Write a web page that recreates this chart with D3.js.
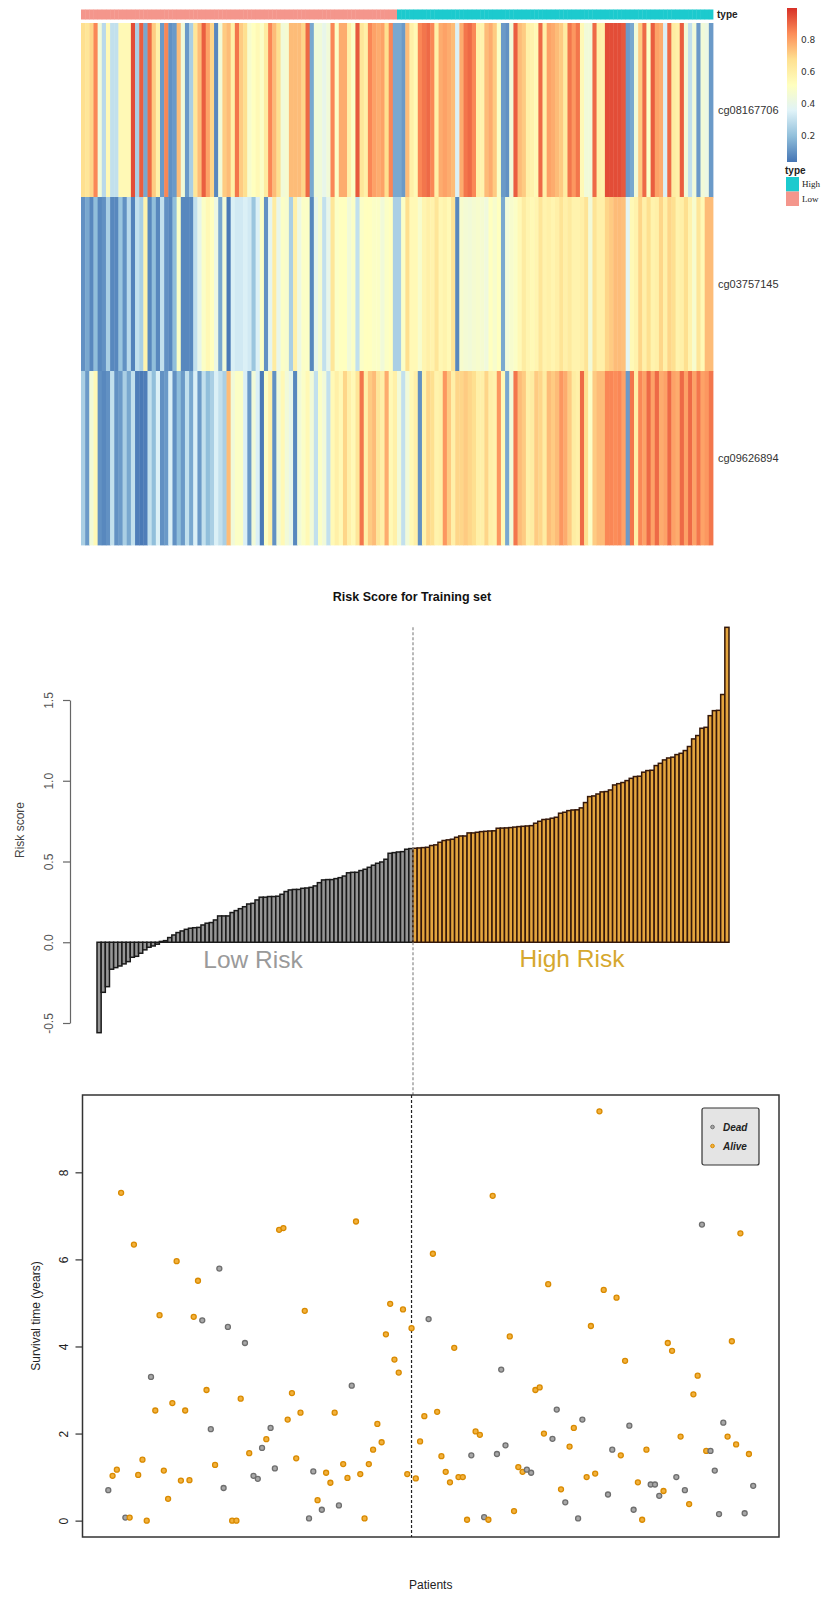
<!DOCTYPE html>
<html lang="en">
<head>
<meta charset="UTF-8">
<title>Risk Score for Training set</title>
<script src="https://d3js.org/d3.v7.min.js"></script>
<style>
  body { margin: 0; background: #fff; }
  svg { display: block; font-family: "Liberation Sans", Arial, sans-serif; }
</style>
</head>
<body>
<div id="chart"></div>
<script>
// ---- data ----
const probes = ["cg08167706", "cg03757145", "cg09626894"];

// methylation beta values, patients sorted by risk score (76 low, then 76 high)
const cg08167706 = [
  0.68,0.65,0.7,0.85,0.45,0.28,0.55,0.3,0.3,0.55, 0.55,0.55,0.95,0.25,0.92,0.15,0.9,0.72,0.6,0.12,
  0.85,0.1,0.12,0.75,0.45,0.12,0.25,0.65,0.75,0.92, 0.8,0.7,0.08,0.45,0.72,0.75,0.6,0.88,0.72,0.68,
  0.48,0.52,0.55,0.5,0.62,0.85,0.75,0.68,0.45,0.47, 0.75,0.75,0.75,0.7,0.9,0.15,0.45,0.45,0.4,0.45,
  0.85,0.5,0.78,0.78,0.6,0.5,0.93,0.65,0.6,0.85, 0.8,0.78,0.8,0.68,0.85,0.15,
  0.15,0.12,0.75,0.6,0.55,0.85,0.88,0.9,0.85,0.6, 0.78,0.8,0.78,0.75,0.35,0.78,0.88,0.9,0.85,0.6,
  0.58,0.75,0.78,0.72,0.5,0.12,0.1,0.45,0.92,0.75, 0.72,0.6,0.58,0.55,0.9,0.6,0.8,0.78,0.75,0.72,
  0.62,0.88,0.82,0.88,0.55,0.45,0.45,0.9,0.6,0.58, 0.95,0.95,0.95,0.95,0.93,0.12,0.15,0.45,0.72,0.9,
  0.5,0.92,0.8,0.78,0.35,0.9,0.62,0.6,0.92,0.45, 0.3,0.45,0.12,0.45,0.42,0.12
];
const cg03757145 = [
  0.10,0.15,0.08,0.20,0.08,0.10,0.25,0.08,0.08,0.22, 0.10,0.28,0.07,0.30,0.25,0.58,0.08,0.20,0.08,0.30,
  0.10,0.08,0.20,0.50,0.08,0.08,0.08,0.30,0.40,0.50, 0.55,0.52,0.42,0.15,0.45,0.05,0.35,0.33,0.33,0.35,
  0.33,0.22,0.35,0.50,0.10,0.38,0.62,0.40,0.50,0.48, 0.25,0.60,0.42,0.50,0.50,0.08,0.40,0.47,0.30,0.40,
  0.65,0.50,0.52,0.52,0.45,0.50,0.30,0.50,0.52,0.52, 0.50,0.50,0.45,0.50,0.52,0.25,
  0.25,0.5,0.68,0.55,0.55,0.48,0.57,0.6,0.58,0.65, 0.56,0.58,0.55,0.66,0.08,0.48,0.46,0.45,0.47,0.48,
  0.47,0.44,0.52,0.48,0.52,0.15,0.45,0.48,0.5,0.55, 0.62,0.57,0.55,0.57,0.65,0.58,0.6,0.57,0.6,0.66,
  0.6,0.63,0.58,0.58,0.6,0.66,0.45,0.66,0.6,0.6, 0.7,0.72,0.75,0.75,0.74,0.38,0.55,0.58,0.7,0.6,
  0.68,0.58,0.6,0.7,0.6,0.7,0.68,0.58,0.6,0.68, 0.58,0.48,0.65,0.55,0.75,0.75
];
const cg09626894 = [
  0.25,0.12,0.45,0.55,0.1,0.08,0.1,0.3,0.1,0.12, 0.25,0.15,0.3,0.06,0.05,0.06,0.3,0.2,0.35,0.1,
  0.12,0.35,0.1,0.2,0.12,0.3,0.15,0.35,0.12,0.3, 0.2,0.25,0.35,0.3,0.25,0.75,0.45,0.5,0.5,0.35,
  0.12,0.45,0.35,0.05,0.5,0.6,0.1,0.45,0.55,0.45, 0.4,0.08,0.45,0.5,0.55,0.45,0.3,0.5,0.45,0.3,
  0.55,0.6,0.55,0.7,0.6,0.55,0.65,0.88,0.6,0.72, 0.75,0.65,0.6,0.78,0.55,0.6,
  0.45,0.3,0.45,0.55,0.6,0.1,0.58,0.7,0.68,0.58, 0.6,0.82,0.72,0.6,0.7,0.7,0.72,0.7,0.68,0.6,
  0.6,0.7,0.6,0.58,0.82,0.55,0.15,0.45,0.88,0.75, 0.72,0.6,0.62,0.72,0.7,0.62,0.75,0.72,0.75,0.82,
  0.78,0.72,0.62,0.6,0.9,0.68,0.5,0.72,0.75,0.75, 0.85,0.85,0.84,0.85,0.8,0.12,0.88,0.6,0.85,0.8,
  0.9,0.8,0.9,0.78,0.8,0.9,0.8,0.78,0.9,0.8, 0.9,0.8,0.88,0.8,0.82,0.88
];

// risk scores (sorted)
const riskLow = [
  -0.56,-0.31,-0.275,-0.167,-0.157,-0.147,-0.134,-0.12,-0.093,-0.087,
  -0.068,-0.047,-0.031,-0.023,-0.012,0.005,0.01,0.029,0.045,0.06,
  0.07,0.08,0.087,0.09,0.092,0.107,0.118,0.122,0.138,0.163,
  0.163,0.163,0.184,0.196,0.208,0.22,0.237,0.241,0.262,0.279,
  0.279,0.283,0.283,0.285,0.297,0.314,0.324,0.327,0.327,0.334,
  0.336,0.34,0.349,0.369,0.386,0.388,0.388,0.394,0.4,0.41,
  0.43,0.433,0.433,0.444,0.452,0.464,0.477,0.489,0.497,0.514,
  0.551,0.555,0.559,0.561,0.576,0.58
];
const riskHigh = [
  0.582,0.584,0.586,0.588,0.599,0.603,0.619,0.63,0.634,0.638,
  0.65,0.658,0.658,0.677,0.677,0.681,0.685,0.687,0.689,0.69,
  0.706,0.707,0.708,0.71,0.713,0.716,0.718,0.72,0.722,0.737,
  0.749,0.76,0.762,0.768,0.774,0.799,0.805,0.815,0.819,0.82,
  0.832,0.865,0.902,0.906,0.918,0.931,0.933,0.943,0.974,0.982,
  0.989,1.001,1.015,1.026,1.028,1.053,1.063,1.065,1.094,1.108,
  1.129,1.141,1.146,1.162,1.17,1.187,1.212,1.259,1.28,1.325,
  1.331,1.403,1.434,1.436,1.534,1.95
];

// survival time (years) and status (1 = dead, 0 = alive), same patient order
const survTime = [
  0.70,1.03,1.17,7.53,0.07,0.07,6.34,1.05,1.40,0.00, 3.30,2.53,4.72,1.15,0.50,2.70,5.96,0.92,2.53,0.93,
  4.68,5.51,4.60,3.00,2.10,1.28,5.79,0.75,4.45,0.00, 0.00,2.80,4.08,1.55,1.03,0.96,1.67,1.87,2.13,1.20,
  6.68,6.72,2.32,2.93,1.43,2.48,4.82,0.05,1.13,0.47, 0.25,1.10,0.87,2.48,0.35,1.30,0.98,3.10,6.87,1.07,
  0.05,1.30,1.63,2.22,1.80,4.28,4.98,3.70,3.40,4.85, 1.07,4.42,0.97,1.82,2.40,4.63,6.13,2.50,1.48,1.12,
  0.88,3.97,1.00,1.00,0.02,1.50,2.05,1.97,0.08,0.02, 7.46,1.53,3.47,1.73,4.23,0.22,1.23,1.12,1.17,1.10,
  3.00,3.06,2.00,5.43,1.88,2.55,0.72,0.42,1.70,2.13, 0.05,2.32,1.00,4.47,1.08,9.40,5.30,0.60,1.63,5.12,
  1.50,3.67,2.18,0.25,0.88,0.02,1.63,0.83,0.83,0.57, 0.68,4.08,3.90,1.00,1.93,0.70,0.38,2.90,3.33,6.80,
  1.60,1.60,1.15,0.15,2.25,1.93,4.12,1.75,6.60,0.17, 1.53,0.80
];
const survStatus = [
  1,0,0,0,1,0,0,0,0,0, 1,0,0,0,0,0,0,0,0,0,
  0,0,1,0,1,0,1,1,1,0, 0,0,1,0,1,1,1,0,1,1,
  0,0,0,0,0,0,0,1,1,0, 1,0,0,0,1,0,0,1,0,0,
  0,0,0,0,0,0,0,0,0,0, 0,0,0,0,0,1,0,0,0,0,
  0,0,0,0,0,1,0,0,1,0, 0,1,1,1,0,0,0,0,1,1,
  0,0,0,0,1,1,0,1,0,0, 1,1,0,0,0,0,0,1,1,0,
  0,0,1,1,0,0,0,1,1,1, 0,0,0,1,0,1,0,0,0,1,
  0,1,1,1,1,0,0,0,0,1, 0,1
];
const survCut = 72;

const riskTicks = [-0.5, 0, 0.5, 1.0, 1.5];
const survTicks = [0, 2, 4, 6, 8];
const colorTicks = [0.2, 0.4, 0.6, 0.8];
const typeLevels = ["High", "Low"];

// ---- setup ----
const W = 826, H = 1597;
const svg = d3.select("#chart").append("svg").attr("width", W).attr("height", H);

const riskScore = riskLow.concat(riskHigh);
const riskType = riskScore.map((d, i) => i < riskLow.length ? "Low" : "High");
const n = riskScore.length;
const patients = d3.range(n);

// ================= heatmap =================
const methyl = [cg08167706, cg03757145, cg09626894];
const hx = d3.scaleBand().domain(patients).range([81, 713]);
const hy = d3.scaleBand().domain(probes).range([23, 545]);
const heatColors = ["#4575B4", "#91BFDB", "#E0F3F8", "#FFFFBF", "#FEE090", "#FC8D59", "#D73027"];
const cLo = 0.04, cHi = 1.0;
const heatColor = d3.scaleLinear()
  .domain(d3.range(7).map(i => cLo + i * (cHi - cLo) / 6))
  .range(heatColors).clamp(true);
const typeColor = d3.scaleOrdinal().domain(typeLevels).range(["#1CCACE", "#F4968C"]);

const heat = svg.append("g");
probes.forEach((p, r) => {
  heat.append("g").selectAll("rect")
    .data(methyl[r])
    .join("rect")
    .attr("x", (d, i) => hx(i))
    .attr("y", hy(p))
    .attr("width", hx.bandwidth() + 0.4)
    .attr("height", hy.bandwidth() + 0.4)
    .attr("fill", d => heatColor(d));

  heat.append("text")
    .attr("x", 718).attr("y", hy(p) + hy.bandwidth() / 2)
    .attr("dy", "0.35em")
    .attr("font-size", 11).attr("fill", "#333")
    .text(p);
});

// annotation bar
heat.append("g").selectAll("rect")
  .data(riskType)
  .join("rect")
  .attr("x", (d, i) => hx(i))
  .attr("y", 9.5)
  .attr("width", hx.bandwidth() + 0.4)
  .attr("height", 10)
  .attr("fill", d => typeColor(d));

heat.append("text")
  .attr("x", 717).attr("y", 18)
  .attr("font-size", 10).attr("font-weight", "bold").attr("fill", "#222")
  .text("type");

// colour bar
const cb = d3.scaleLinear().domain([cLo, cHi]).range([162, 8]);
const grad = svg.append("defs").append("linearGradient")
  .attr("id", "cbar").attr("x1", 0).attr("y1", 1).attr("x2", 0).attr("y2", 0);
heatColors.forEach((c, i) => {
  grad.append("stop").attr("offset", i / 6).attr("stop-color", c);
});
svg.append("rect")
  .attr("x", 787).attr("y", cb(cHi))
  .attr("width", 10).attr("height", cb(cLo) - cb(cHi))
  .attr("fill", "url(#cbar)");
svg.append("g").selectAll("text")
  .data(colorTicks)
  .join("text")
  .attr("x", 801).attr("y", d => cb(d))
  .attr("dy", "0.35em")
  .attr("font-size", 9).attr("fill", "#333")
  .attr("font-family", "'DejaVu Sans', sans-serif")
  .text(d => d.toFixed(1));

// type legend
svg.append("text")
  .attr("x", 785).attr("y", 174)
  .attr("font-size", 10).attr("font-weight", "bold").attr("fill", "#222")
  .text("type");
const tl = svg.append("g").selectAll("g")
  .data(typeLevels)
  .join("g")
  .attr("transform", (d, i) => `translate(786,${177 + i * 14.5})`);
tl.append("rect")
  .attr("width", 13).attr("height", 14.5)
  .attr("fill", d => typeColor(d));
tl.append("text")
  .attr("x", 16).attr("y", 10)
  .attr("font-size", 9)
  .attr("font-family", "'Liberation Serif', 'DejaVu Serif', serif")
  .attr("fill", "#222")
  .text(d => d);

// ================= risk score barplot =================
const bx = d3.scaleBand().domain(patients).range([97, 729]).padding(0);
const by = d3.scaleLinear().domain([-0.5, 1.5]).range([1023, 700]);

svg.append("text")
  .attr("x", 412).attr("y", 601)
  .attr("text-anchor", "middle")
  .attr("font-size", 12.5).attr("font-weight", "bold").attr("fill", "#111")
  .text("Risk Score for Training set");

svg.append("g").selectAll("rect")
  .data(riskScore)
  .join("rect")
  .attr("x", (d, i) => bx(i))
  .attr("y", d => by(Math.max(0, d)))
  .attr("width", bx.bandwidth())
  .attr("height", d => Math.abs(by(d) - by(0)))
  .attr("fill", (d, i) => riskType[i] === "Low" ? "#969696" : "#E4A53E")
  .attr("stroke", (d, i) => riskType[i] === "Low" ? "#1a1a1a" : "#35180a")
  .attr("stroke-width", 1.5);

const riskAxis = svg.append("g")
  .attr("transform", "translate(70,0)")
  .call(d3.axisLeft(by).tickValues(riskTicks).tickSize(7).tickSizeOuter(0)
    .tickFormat(d => d.toFixed(1)));
riskAxis.selectAll("path, line").attr("stroke", "#666").attr("stroke-width", 1.2);
riskAxis.selectAll("text")
  .attr("x", 0).attr("dy", 0)
  .attr("text-anchor", "middle")
  .attr("transform", "translate(-17,0) rotate(-90)")
  .attr("font-size", 12)
  .attr("font-family", "'Liberation Sans', Arial, sans-serif")
  .attr("fill", "#555");

svg.append("text")
  .attr("transform", "translate(24,830) rotate(-90)")
  .attr("text-anchor", "middle")
  .attr("font-size", 12).attr("fill", "#444")
  .text("Risk score");

svg.append("text")
  .attr("x", 253).attr("y", 968)
  .attr("text-anchor", "middle")
  .attr("font-size", 24.5).attr("fill", "#9A9A9A")
  .text("Low Risk");
svg.append("text")
  .attr("x", 572).attr("y", 967)
  .attr("text-anchor", "middle")
  .attr("font-size", 24.5).attr("fill", "#D6A82E")
  .text("High Risk");

// ================= survival scatter =================
const xPad = 0.04 * (n - 1);
const sx = d3.scaleLinear().domain([1 - xPad, n + xPad]).range([82.5, 779]);
const tMax = d3.max(survTime);
const sy = d3.scaleLinear().domain([-0.04 * tMax, tMax * 1.04]).range([1537, 1095]);

// grey dashed split line of the barplot, running down to the scatter box
svg.append("line")
  .attr("x1", bx(riskLow.length)).attr("x2", bx(riskLow.length))
  .attr("y1", by(d3.max(riskScore))).attr("y2", sy.range()[1])
  .attr("stroke", "#8a8a8a").attr("stroke-width", 1.2)
  .attr("stroke-dasharray", "3,2");

svg.append("rect")
  .attr("x", sx.range()[0]).attr("y", sy.range()[1])
  .attr("width", sx.range()[1] - sx.range()[0])
  .attr("height", sy.range()[0] - sy.range()[1])
  .attr("fill", "none").attr("stroke", "#333").attr("stroke-width", 1.5);

svg.append("line")
  .attr("x1", sx(survCut)).attr("x2", sx(survCut))
  .attr("y1", sy.range()[1]).attr("y2", sy.range()[0])
  .attr("stroke", "#222").attr("stroke-width", 1.2)
  .attr("stroke-dasharray", "3,2");

const survAxis = svg.append("g")
  .attr("transform", `translate(${sx.range()[0]},0)`)
  .call(d3.axisLeft(sy).tickValues(survTicks).tickSize(7).tickSizeOuter(0));
survAxis.select(".domain").remove();
survAxis.selectAll("line").attr("stroke", "#333").attr("stroke-width", 1.2);
survAxis.selectAll("text")
  .attr("x", 0).attr("dy", 0)
  .attr("text-anchor", "middle")
  .attr("transform", "translate(-15,0) rotate(-90)")
  .attr("font-size", 12)
  .attr("font-family", "'Liberation Sans', Arial, sans-serif")
  .attr("fill", "#222");

svg.append("text")
  .attr("transform", "translate(40,1316) rotate(-90)")
  .attr("text-anchor", "middle")
  .attr("font-size", 12).attr("fill", "#222")
  .text("Survival time (years)");

svg.append("text")
  .attr("x", (sx.range()[0] + sx.range()[1]) / 2).attr("y", 1589)
  .attr("text-anchor", "middle")
  .attr("font-size", 12).attr("fill", "#222")
  .text("Patients");

const statusFill = ["#F2B13C", "#A8A8A8"];
const statusStroke = ["#D98A00", "#6E6E6E"];
svg.append("g").selectAll("circle")
  .data(survTime)
  .join("circle")
  .attr("cx", (d, i) => sx(i + 1))
  .attr("cy", d => sy(d))
  .attr("r", 2.5)
  .attr("fill", (d, i) => statusFill[survStatus[i]])
  .attr("stroke", (d, i) => statusStroke[survStatus[i]])
  .attr("stroke-width", 1.3);

// legend
const lg = svg.append("g").attr("transform", "translate(702,1108)");
lg.append("rect")
  .attr("width", 57).attr("height", 57).attr("rx", 2)
  .attr("fill", "#E4E4E4").attr("stroke", "#333").attr("stroke-width", 1.2);
const lgItems = [{ label: "Dead", s: 1 }, { label: "Alive", s: 0 }];
const li = lg.selectAll("g.item")
  .data(lgItems)
  .join("g")
  .attr("class", "item")
  .attr("transform", (d, i) => `translate(0,${19 + i * 19})`);
li.append("circle")
  .attr("cx", 10.5).attr("cy", 0).attr("r", 1.8)
  .attr("fill", d => statusFill[d.s]).attr("stroke", d => statusStroke[d.s]).attr("stroke-width", 1);
li.append("text")
  .attr("x", 21).attr("y", 0).attr("dy", "0.35em")
  .attr("font-size", 10).attr("font-weight", "bold").attr("font-style", "italic")
  .attr("fill", "#222")
  .text(d => d.label);
</script>
</body>
</html>
